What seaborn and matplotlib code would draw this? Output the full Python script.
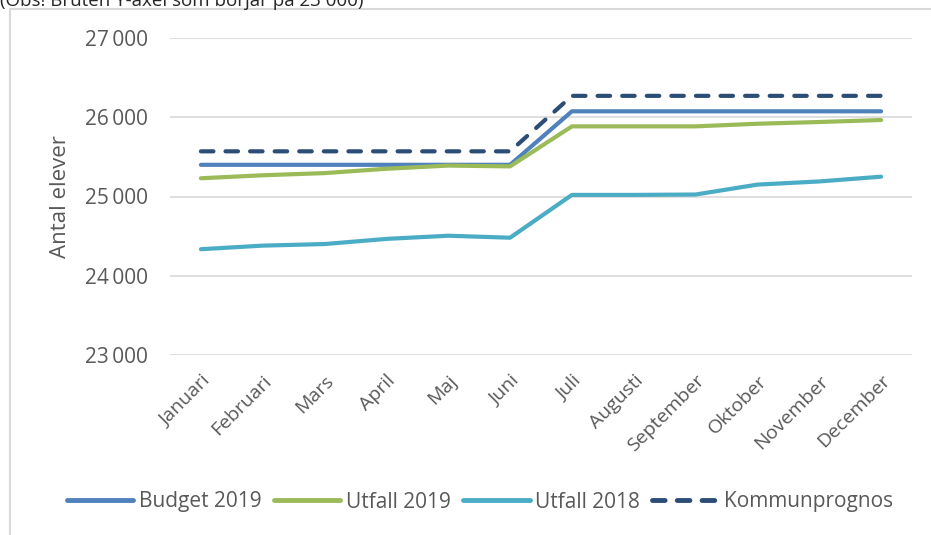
import matplotlib
matplotlib.use("Agg")
import matplotlib.pyplot as plt
import seaborn as sns
import pandas as pd
from matplotlib.lines import Line2D
from matplotlib.ticker import FuncFormatter

months = ["Januari", "Februari", "Mars", "April", "Maj", "Juni", "Juli",
          "Augusti", "September", "Oktober", "November", "December"]
budget_2019 = [25400, 25400, 25400, 25400, 25400, 25400,
               26075, 26075, 26075, 26075, 26075, 26075]
utfall_2019 = [25230, 25268, 25295, 25350, 25390, 25380,
               25885, 25885, 25885, 25918, 25940, 25965]
utfall_2018 = [24335, 24380, 24400, 24465, 24505, 24480,
               25020, 25020, 25025, 25150, 25190, 25250]
kommunprognos = [25570, 25570, 25570, 25570, 25570, 25570,
                 26270, 26270, 26270, 26270, 26270, 26270]
series_names = ["Budget 2019", "Utfall 2019", "Utfall 2018", "Kommunprognos"]
y_ticks = [23000, 24000, 25000, 26000, 27000]
note = "(Obs! Bruten Y-axel som börjar på 23 000)"

rows = []
for name, vals in zip(series_names, [budget_2019, utfall_2019, utfall_2018, kommunprognos]):
    for m, v in zip(months, vals):
        rows.append({"Månad": m, "Antal": v, "Serie": name})
df = pd.DataFrame(rows)

sns.set_style("white")
plt.rcParams["font.family"] = ["Open Sans", "DejaVu Sans"]

W, H = 931, 535
fig = plt.figure(figsize=(W / 100, H / 100), dpi=100)
ax = fig.add_axes([170 / W, 1 - 355 / H, (912 - 170) / W, (355 - 38) / H])

palette = {"Budget 2019": "#4f81bd", "Utfall 2019": "#9bbb59",
           "Utfall 2018": "#4bacc6", "Kommunprognos": "#2c4d76"}
dashes = {"Budget 2019": "", "Utfall 2019": "", "Utfall 2018": "",
          "Kommunprognos": (3.0, 2.9)}

sns.lineplot(data=df, x="Månad", y="Antal", hue="Serie", style="Serie",
             hue_order=series_names, style_order=series_names,
             palette=palette, dashes=dashes, lw=3.0, sort=False, ax=ax)

for ln in ax.get_lines():
    ln.set_solid_capstyle("round")
    ln.set_dash_capstyle("round")
    ln.set_solid_joinstyle("round")

ax.set_xlim(-0.5, len(months) - 0.5)
ax.set_ylim(y_ticks[0], y_ticks[-1])
ax.set_yticks(y_ticks)
ax.yaxis.set_major_formatter(FuncFormatter(lambda v, p: f"{int(v):,}".replace(",", "\u2009")))
ax.grid(axis="y", color="#d9d9d9", lw=1.2)
ax.grid(axis="x", visible=False)
for s in ax.spines.values():
    s.set_visible(False)
ax.tick_params(axis="y", length=0, pad=16, labelsize=15, labelcolor="#595959")
ax.tick_params(axis="x", length=0, pad=12, labelsize=14, labelcolor="#595959")
plt.setp(ax.get_xticklabels(), rotation=45, ha="right", rotation_mode="anchor")
ax.set_xlabel("")
ax.set_ylabel("Antal elever", fontsize=16, color="#595959")
ax.yaxis.set_label_coords((71 - 170) / (912 - 170), 0.5)

handles, labels = ax.get_legend_handles_labels()
ax.get_legend().remove()
leg = fig.legend(handles, labels, loc="center", bbox_to_anchor=(480 / W, 1 - 502 / H),
                 ncol=4, frameon=False, fontsize=15, handlelength=3.2,
                 handletextpad=0.25, columnspacing=0.6, labelcolor="#595959")
for h, lab in zip(leg.legend_handles, labels):
    h.set_linewidth(3.5)
    h.set_solid_capstyle("round")
    h.set_dash_capstyle("round")
    if lab == "Kommunprognos":
        h.set_linestyle((0, (2.6, 2.5)))

# outer frame lines
fig.add_artist(Line2D([10 / W, 10 / W, 1], [0, 1 - 9 / H, 1 - 9 / H],
                      transform=fig.transFigure, color="#d9d9d9", lw=1.5))
fig.text(0.0, 1 - 6 / H, note, fontsize=13.5, color="#262626", va="baseline", ha="left")

fig.savefig("out.png", dpi=100)
